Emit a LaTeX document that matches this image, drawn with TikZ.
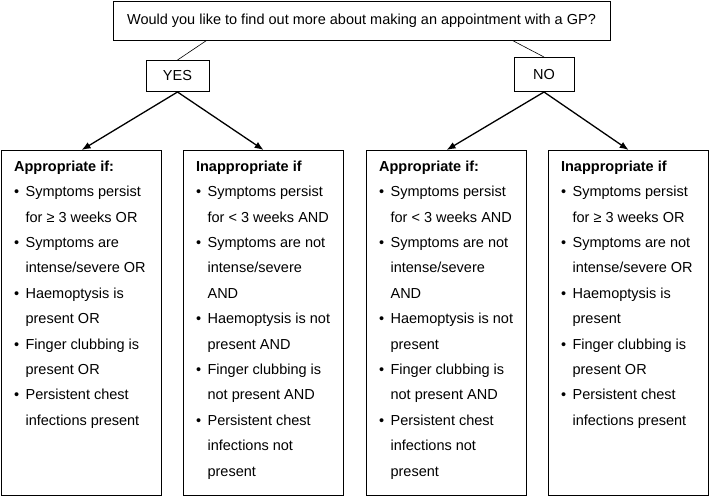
\documentclass[tikz,border=0pt]{standalone}
\usepackage{fontspec}
\setmainfont{Liberation Sans}
\usepackage{array}
\usetikzlibrary{arrows.meta}

% list of criteria inside one of the lower boxes
\newcommand{\critlist}[2]{\parbox[c][345pt][t]{160pt}{\vspace*{3pt}\hspace*{12.5pt}\begin{tabular}[t]{@{}p{11.5pt}@{}l@{}}\multicolumn{2}{@{}l@{}}{\textbf{#1}}\\#2\end{tabular}}}

\begin{document}
\begin{tikzpicture}[x=1pt, y=-1pt,
		font=\fontsize{14.5pt}{25.4pt}\selectfont,
		box/.style={draw, line width=1pt, inner sep=0pt},
		panel/.style={draw, line width=1.2pt, inner sep=0pt, anchor=north west},
		link/.style={line width=0.6pt},
		arrow/.style={-{Latex[length=9pt,width=7pt]}, line width=1.3pt}]
		\useasboundingbox (0,0) rectangle (709,496);
		
		\node[box, minimum width=497pt, minimum height=39pt] (ask) at (361.5,20.5) {Would you like to find out more about making an appointment with a GP?};
		
		\node[box, minimum width=63pt, minimum height=31pt, anchor=south] (yes) at (177.5,92) {YES};
		\node[box, minimum width=60pt, minimum height=34pt, anchor=south] (no) at (544,92) {NO};
		
		\draw[link] ([xshift=94pt]ask.south west) -- (yes.north);
		\draw[link] ([xshift=400pt]ask.south west) -- (no.north);
		
		\node[panel] (appyes) at (1,150) {\critlist{Appropriate if:}{%
			\textbullet & Symptoms persist\\ & for ≥ 3 weeks OR\\
			\textbullet & Symptoms are\\ & intense/severe OR\\
			\textbullet & Haemoptysis is\\ & present OR\\
			\textbullet & Finger clubbing is\\ & present OR\\
			\textbullet & Persistent chest\\ & infections present}};
		\node[panel] (inappyes) at (183,150) {\critlist{Inappropriate if}{%
			\textbullet & Symptoms persist\\ & for < 3 weeks AND\\
			\textbullet & Symptoms are not\\ & intense/severe\\ & AND\\
			\textbullet & Haemoptysis is not\\ & present AND\\
			\textbullet & Finger clubbing is\\ & not present AND\\
			\textbullet & Persistent chest\\ & infections not\\ & present}};
		\node[panel] (appno) at (366,150) {\critlist{Appropriate if:}{%
			\textbullet & Symptoms persist\\ & for < 3 weeks AND\\
			\textbullet & Symptoms are not\\ & intense/severe\\ & AND\\
			\textbullet & Haemoptysis is not\\ & present\\
			\textbullet & Finger clubbing is\\ & not present AND\\
			\textbullet & Persistent chest\\ & infections not\\ & present}};
		\node[panel] (inappno) at (548,150) {\critlist{Inappropriate if}{%
			\textbullet & Symptoms persist\\ & for ≥ 3 weeks OR\\
			\textbullet & Symptoms are not\\ & intense/severe OR\\
			\textbullet & Haemoptysis is\\ & present\\
			\textbullet & Finger clubbing is\\ & present OR\\
			\textbullet & Persistent chest\\ & infections present}};
		
		\draw[arrow] (yes.south) -- (appyes.north);
		\draw[arrow] (yes.south) -- (inappyes.north);
		\draw[arrow] (no.south) -- (appno.north);
		\draw[arrow] (no.south) -- (inappno.north);
	\end{tikzpicture}
\end{document}
